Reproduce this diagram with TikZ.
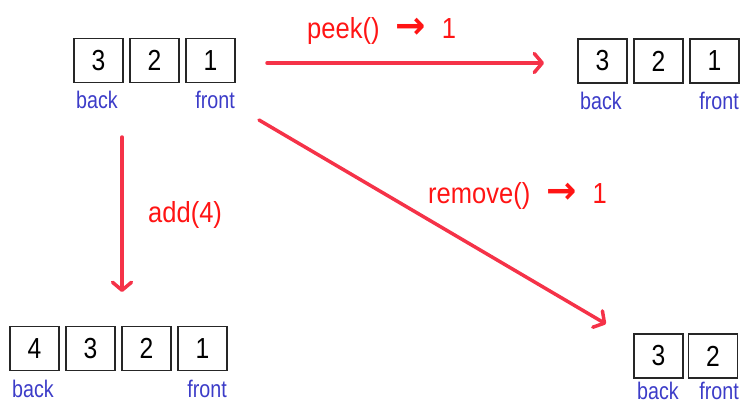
\documentclass[tikz,border=0pt]{standalone}
\usepackage{fontspec}
\usepackage{graphicx}
\setmainfont{Liberation Sans}
\newfontfamily\lblfont[FakeStretch=0.82]{Liberation Sans}
\newfontfamily\digfont[FakeStretch=0.85]{Liberation Sans}
\newfontfamily\opfont[FakeStretch=0.88]{Liberation Sans}
\newfontfamily\arrfont{DejaVu Sans}
\newcommand{\opArrow}{\scalebox{1.25}[1.3]{\arrfont\bfseries →}}
\usetikzlibrary{arrows.meta}
\definecolor{qblue}{RGB}{60,60,200}
\definecolor{qred}{RGB}{255,20,20}
\definecolor{arrred}{RGB}{245,50,72}
\begin{document}
\begin{tikzpicture}[x=1pt,y=-1pt,
  cell/.style={draw=black!85, line width=1.3pt, minimum width=49pt, minimum height=44pt, inner sep=0pt, font=\digfont\fontsize{29}{31}\selectfont},
  lbl/.style={text=qblue, inner sep=0pt, font=\lblfont\fontsize{24}{26}\selectfont},
  op/.style={text=qred, inner sep=0pt, font=\opfont\fontsize{29}{31}\selectfont},
  flow/.style={draw=arrred, line width=3.5pt, line cap=round, -{Straight Barb[length=8pt,width=19pt,line width=3.5pt,round]}}]
\useasboundingbox (0,0) rectangle (741,404);
% top-left queue
\node[cell] (a3) at (98.5,60.5) {3};
\node[cell] (a2) at (154.5,60.5) {2};
\node[cell] (a1) at (210.5,60.5) {1};
\node[lbl, anchor=base west] (aback) at (76,108) {back};
\node[lbl, anchor=base east] (afront) at (235,108) {front};
% top-right queue (after peek)
\node[cell] (b3) at (602.5,61) {3};
\node[cell] (b2) at (658.5,61) {2};
\node[cell] (b1) at (714.5,61) {1};
\node[lbl, anchor=base west] (bback) at (580,109) {back};
\node[lbl, anchor=base east] (bfront) at (739,109) {front};
% bottom-left queue (after add)
\node[cell] (c4) at (34.5,348.5) {4};
\node[cell] (c3) at (90.5,348.5) {3};
\node[cell] (c2) at (146.5,348.5) {2};
\node[cell] (c1) at (202.5,348.5) {1};
\node[lbl, anchor=base west] (cback) at (12,397) {back};
\node[lbl, anchor=base east] (cfront) at (227,397) {front};
% bottom-right queue (after remove)
\node[cell] (d3) at (658.5,356) {3};
\node[cell] (d2) at (713,356) {2};
\node[lbl, anchor=base west] (dback) at (637,399) {back};
\node[lbl, anchor=base east] (dfront) at (739,399) {front};
% connector ends
\coordinate (p0) at (267,63);
\coordinate (p1) at (544,63);
\coordinate (q0) at (122,137);
\coordinate (q1) at (122,292);
\coordinate (r0) at (259,120);
\coordinate (r1) at (606,324);
\draw[flow] (p0) -- (p1);
\draw[flow] (q0) -- (q1);
\draw[flow] (r0) -- (r1);
% operation labels
\node[op, anchor=base west] (peek) at (307,38) {peek()\hspace{16pt}\opArrow\hspace{16pt}1};
\node[op, anchor=base west] (add) at (148,222) {add(4)};
\node[op, anchor=base west] (remove) at (428,203) {remove()\hspace{16pt}\opArrow\hspace{16pt}1};
\end{tikzpicture}
\end{document}
